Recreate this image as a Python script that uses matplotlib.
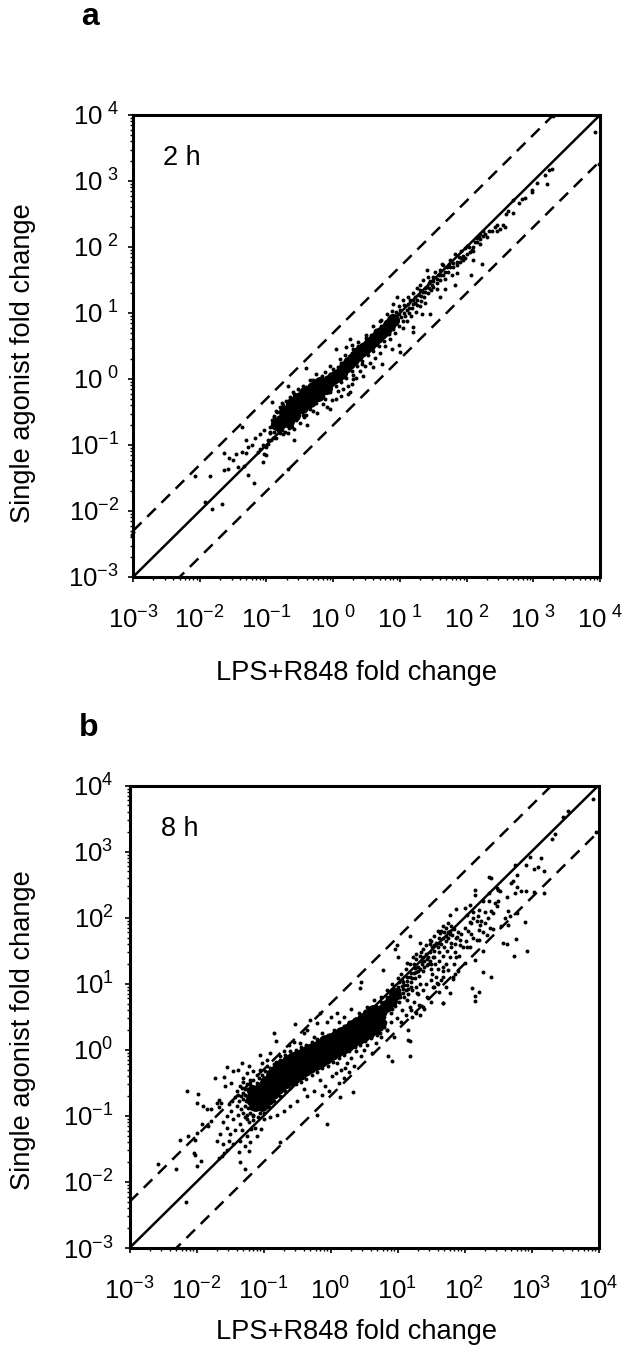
import matplotlib
matplotlib.use("Agg")
import matplotlib.pyplot as plt
import numpy as np

plt.rcParams['font.family'] = ['Liberation Sans', 'DejaVu Sans']
plt.rcParams['mathtext.fontset'] = 'custom'
plt.rcParams['mathtext.rm'] = 'Liberation Sans'
plt.rcParams['mathtext.default'] = 'regular'

X_LABEL = "LPS+R848 fold change"
Y_LABEL = "Single agonist fold change"
DECADES = [-3, -2, -1, 0, 1, 2, 3, 4]
FOLD_LIMIT = 5

# All values below are log10(fold change), as (x, y).
# The CORE lists mark the solid black part of each cloud, drawn as fatter blobs.
A_CORE = [
    (-.84, -.68), (-.78, -.63), (-.72, -.59), (-.66, -.53), (-.6, -.46), (-.54, -.39),
    (-.48, -.34), (-.42, -.3), (-.36, -.26), (-.3, -.22), (-.24, -.17), (-.18, -.12),
    (-.12, -.07), (-.06, -.03), (0, .01), (.06, .05), (.12, .09), (.18, .18),
    (.24, .24), (.3, .3), (.36, .36), (.42, .42), (.48, .47), (.54, .52),
    (.6, .57), (.66, .63), (.72, .69), (.78, .74), (.84, .82), (.9, .89),
    (-.72, -.5), (-.62, -.38), (-.52, -.3), (-.42, -.21), (-.3, -.14), (-.2, -.06),
    (-.68, -.64), (-.58, -.54), (-.46, -.42), (-.34, -.33), (-.22, -.24), (-.1, -.14),
]
A_DOTS = [
    (3.92, 3.75), (3.98, 3.26), (3.29, 3.98), (3.28, 3.18), (3.23, 3.16), (3.18, 3.09),
    (3.21, 2.95), (3.06, 2.97), (2.98, 2.87), (2.98, 2.83), (2.88, 2.74), (2.83, 2.72),
    (2.78, 2.67), (2.69, 2.71), (2.69, 2.52), (2.59, 2.5), (2.62, 2.55), (2.57, 2.3),
    (2.55, 2.34), (2.5, 2.27), (2.46, 2.33), (2.42, 2.3), (2.38, 2.24), (2.33, 2.25),
    (2.27, 2.2), (2.24, 2.17), (2.2, 2.12), (2.25, 2.25), (2.2, 2.2), (2.18, 2.15),
    (2.15, 2.08), (2.2, 2.05), (2.1, 2.0), (2.08, 1.95), (2.0, 1.9), (1.98, 1.98),
    (1.95, 1.87), (1.92, 1.94), (1.88, 1.85), (1.85, 1.78), (1.8, 1.7), (2.23, 1.74),
    (2.1, 1.81), (2.07, 1.58), (1.82, 1.42), (1.68, 1.37), (1.6, 1.24), (1.45, .99),
    (1.33, .99), (1.19, .71), (1.2, .79), (.99, .51), (1.0, .41), (.88, .46),
    (.73, .23), (.6, .18), (.45, .05), (.28, -.07), (.23, -.1), (.3, 0),
    (-.09, -.42), (-.24, -.52), (-.39, -.7), (-.59, -.93), (-.68, -1.36), (1.4, 1.65),
    (1.63, 1.75), (.95, 1.24), (.9, 1.14), (.25, .6), (.05, .46), (-.41, .16),
    (-.67, -.1), (-.77, -.37), (-.92, -.35), (-2.07, -1.47), (-1.85, -1.47), (-1.92, -1.86),
    (-1.82, -1.97), (-1.67, -1.89), (-1.63, -1.38), (-1.57, -1.36), (-1.64, -1.12), (-1.56, -1.19),
    (-1.5, -1.23), (-1.45, -1.13), (-1.42, -1.34), (-1.34, -1.32), (-1.36, -.73), (-1.3, -.93),
    (-1.27, -1.46), (-1.19, -1.58), (-1.37, -1.1), (-1.3, -1.12), (-1.27, -1.03), (-1.22, -1.0),
    (-1.17, -.89), (-1.09, -.83), (-1.04, -.78), (-1.09, -1.06), (-1.04, -1.13), (-1.05, -1.26),
    (-1.0, -1.03), (-.97, -.93), (-.95, -.82), (-3.02, -2.37), (-3.0, -2.32), (-1.12, -1.1),
    (-1.0, -1.15), (-1.05, -1.0), (-.98, -.98), (-.93, -.92), (-.9, -.9), (-.95, -.72),
    (-.92, -.62), (-.88, -.56), (-.85, -.48), (-.8, -.42), (-.75, -.4), (-.7, -.33),
    (-.64, -.28), (-.58, -.22), (-.52, -.15), (-.45, -.1), (-.35, -.02), (-.25, .08),
    (-.12, .1), (.0, .15), (.12, .25), (.2, .48), (.28, .52), (.38, .56), (.5, .66),
    (.6, .8), (.7, .88), (.8, .98), (.88, 1.03), (.98, 1.1), (1.05, 1.2), (1.12, 1.25),
    (1.2, 1.3), (1.25, 1.38), (1.3, 1.42), (1.35, 1.5), (1.42, 1.55), (1.5, 1.55),
    (1.45, 1.48), (1.52, 1.62), (1.6, 1.65), (1.7, 1.7), (1.75, 1.8), (1.82, 1.9),
    (1.55, 1.45), (1.6, 1.5), (1.68, 1.52), (1.72, 1.62), (1.78, 1.58), (1.85, 1.6),
    (1.14, 1.08), (1.2, 1.14), (1.26, 1.2), (1.32, 1.26), (1.38, 1.32), (1.43, 1.38),
    (1.3, 1.1), (1.38, 1.15), (1.24, 1.02), (1.16, .95), (1.1, .88), (1.05, .78),
    (1.15, 1.2), (1.22, 1.25), (1.3, 1.35), (1.4, 1.4), (1.48, 1.42), (1.55, 1.36),
    (.92, .7), (.85, .6), (.78, .5), (.7, .4), (.62, .32), (.55, .25), (.48, .2),
    (.4, .12), (.35, .02), (.15, -.15), (.12, -.25), (.22, -.22), (.25, -.2), (.05, -.3),
    (-.02, -.32), (-.15, -.38), (-.05, -.46), (-.3, -.48), (-.44, -.58), (-.5, -.66),
    (-.58, -.76), (-.68, -.82), (-.75, -.84), (-.85, -.9), (-.62, -.72), (-.4, -.54),
    (-.12, -.3), (.08, -.18), (.3, .06), (.44, .22), (.72, .9), (.62, .72), (.5, .62),
    (.38, .5), (.3, .45), (.18, .36), (.1, .3), (-.05, .2), (-.16, .05), (-.3, -.02),
]
# Extra dots that thicken the edge of the 2 h cloud and its upper tail
A_RIM = [
    (-.88, -.58), (-.84, -.5), (-.8, -.82), (-.76, -.78), (-.72, -.8), (-.66, -.74),
    (-.9, -.72), (-.94, -.8), (-.88, -.8), (-.82, -.78), (-.78, -.46), (-.6, -.2),
    (-.55, -.25), (-.5, -.2), (-.4, -.12), (-.3, -.06), (-.18, .02), (-.05, .08),
    (.02, .12), (.08, .18), (.14, .2), (.2, .3), (.28, .4), (.34, .46), (.42, .52),
    (.5, .58), (.56, .66), (.64, .74), (.72, .8), (.8, .88), (.86, .96), (.94, 1.02),
    (1.0, 1.05), (1.06, 1.12), (.95, .88), (1.02, .94), (.98, .98), (1.06, 1.0),
    (1.1, 1.05), (1.12, 1.14), (1.18, 1.08), (1.22, 1.15), (1.28, 1.28), (1.34, 1.32),
    (1.36, 1.24), (1.42, 1.3), (1.46, 1.35), (1.5, 1.48), (.04, -.1), (.12, -.05),
    (.2, .02), (.28, .12), (.36, .2), (.44, .28), (.52, .36), (.6, .42), (.68, .5),
    (.76, .58), (.84, .68), (.9, .76), (.98, .8), (1.04, .88), (-.35, -.45), (-.25, -.36),
    (-.15, -.25), (-.05, -.2), (-.45, -.55), (-.55, -.62), (1.9, 1.78), (1.95, 1.8),
    (1.75, 1.7), (1.65, 1.58), (1.58, 1.58), (1.65, 1.72), (2.05, 1.92), (2.12, 2.08),
    (2.3, 2.15), (2.45, 2.25), (1.08, .96), (1.14, 1.0), (1.2, 1.2), (1.26, 1.12),
    (1.32, 1.18), (1.38, 1.38), (1.44, 1.46), (1.5, 1.4), (1.56, 1.52), (1.62, 1.58),
    (1.68, 1.62), (1.74, 1.74), (1.8, 1.76), (1.86, 1.72), (1.92, 1.84), (1.98, 1.84),
    (2.04, 2.0), (2.1, 1.94), (2.16, 2.14), (2.0, 2.02),
]

B_CORE = [
    (-1.17, -.75), (-1.15, -.62), (-1.13, -.83), (-1.06, -.72), (-.99, -.64), (-.92, -.56), (-.85, -.49),
    (-.78, -.43), (-.71, -.36), (-.64, -.3), (-.57, -.27), (-.5, -.23), (-.43, -.19),
    (-.36, -.15), (-.29, -.12), (-.22, -.07), (-.15, -.03), (-.08, .01), (-.01, .05),
    (.06, .09), (.13, .14), (.2, .18), (.27, .23), (.34, .27), (.41, .31),
    (.48, .36), (.55, .41), (.62, .46), (.69, .52), (.76, .59), (.83, .66),
    (.9, .74), (.97, .84),
    (-1.04, -.58), (-.96, -.48), (-.88, -.38), (-.8, -.31),
    (-.72, -.23), (-.64, -.17), (-.56, -.13), (-.48, -.1), (-.4, -.05), (-.32, -.01),
    (-.24, .03), (-.16, .08), (-.08, .13), (0, .16), (.08, .2), (.16, .25),
    (.24, .3), (.32, .36), (.4, .41), (.48, .46), (.56, .52), (.64, .58),
    (-1.02, -.84), (-.94, -.74), (-.86, -.66), (-.78, -.58), (-.7, -.5),
    (-.62, -.45), (-.54, -.4), (-.46, -.36), (-.38, -.31), (-.3, -.26), (-.22, -.22),
    (-.14, -.17), (-.06, -.12), (.02, -.07), (.1, -.02), (.18, .03), (.26, .08),
    (.34, .13), (.42, .18), (.5, .23), (.58, .27), (.66, .33), (.74, .41),
]
B_DOTS = [
    (3.92, 3.79), (3.97, 3.29), (3.55, 3.62), (3.47, 3.53), (3.3, 3.19), (3.35, 3.26),
    (2.98, 2.92), (3.14, 2.9), (2.92, 2.8), (3.03, 2.73), (3.1, 2.76), (3.18, 2.7),
    (2.78, 2.65), (2.75, 2.79), (2.36, 2.62), (2.4, 2.6), (2.73, 2.55), (2.7, 2.52),
    (2.78, 2.47), (2.85, 2.4), (2.92, 2.4), (3.03, 2.39), (3.18, 2.38), (2.75, 2.37),
    (2.63, 2.32), (2.5, 2.42), (2.53, 2.4), (2.48, 2.45), (2.16, 2.42), (2.16, 2.35),
    (2.36, 2.37), (2.28, 2.25), (2.36, 2.25), (2.45, 2.22), (2.48, 2.17), (2.08, 2.19),
    (2.0, 2.14), (1.88, 2.13), (1.78, 2.04), (2.13, 2.09), (2.21, 2.12), (2.43, 2.07),
    (2.65, 2.1), (2.78, 2.07), (2.68, 2.02), (2.9, 1.94), (2.65, 1.89), (2.55, 1.87),
    (2.38, 1.84), (2.43, 1.83), (2.13, 1.99), (2.08, 1.94), (2.03, 2.04), (2.23, 1.89),
    (2.28, 1.79), (2.21, 1.82), (2.33, 1.74), (2.13, 1.69), (2.21, 1.66), (2.57, 1.61),
    (2.64, 1.6), (2.77, 1.68), (2.28, 1.49), (2.93, 1.49), (2.74, 1.42), (2.08, 1.56),
    (1.98, 1.55), (2.16, 1.36), (2.0, 1.31), (2.28, 1.18), (2.4, 1.1), (2.11, .93),
    (2.21, .87), (2.16, .81), (2.16, .74), (1.68, .71), (1.78, .86), (1.86, 1.14),
    (1.83, 1.07), (1.76, 1.21), (1.65, 1.8), (1.7, 1.78), (1.78, 1.8), (1.82, 1.74),
    (1.75, 1.69), (1.68, 1.69), (1.88, 1.69), (1.93, 1.66), (1.93, 1.59), (1.55, 1.72),
    (1.62, 1.69), (1.57, 1.62), (1.72, 1.85), (1.8, 1.88), (1.72, 1.72), (1.78, 1.75),
    (1.85, 1.83), (1.9, 1.78), (1.95, 1.75), (1.65, 1.6), (1.6, 1.55), (1.7, 1.55),
    (1.52, 1.55), (1.48, 1.48), (1.42, 1.58), (1.38, 1.52), (1.33, 1.42), (1.28, 1.38),
    (1.35, 1.35), (1.45, 1.4), (1.55, 1.4), (1.62, 1.35), (1.4, 1.25), (1.3, 1.2),
    (1.5, 1.3), (1.6, 1.22), (1.68, 1.2), (1.58, 1.1), (1.65, 1.05), (1.5, 1.05),
    (1.42, 1.0), (1.55, .95), (1.72, .95), (1.62, .88), (1.38, .9), (1.3, .85),
    (1.45, .78), (1.5, .72), (1.25, .72), (1.32, .68), (1.4, .62), (1.2, .6),
    (1.28, .55), (1.22, .5), (1.12, .52), (1.05, .42), (1.16, .3), (1.19, .13),
    (1.16, .15), (1.18, -.1), (.92, -.17), (.86, -.09), (.95, .2), (.85, .3),
    (.75, .2), (.68, .1), (.6, .18), (.55, .08), (.5, 0), (.62, -.05), (.45, -.1),
    (.38, -.02), (.3, -.12), (.35, -.25), (.25, -.2), (.15, -.3), (.2, -.42),
    (.12, -.5), (.34, -.64), (.14, -.71), (-.13, -.69), (-.2, -.98), (-.05, -1.13),
    (-.75, -1.39), (-.02, -.62), (-.08, -.55), (-.25, -.62), (-.35, -.7), (-.4, -.6),
    (-.5, -.78), (-.6, -.85), (-.7, -.92), (-.8, -.98), (-.9, -1.02), (-.15, -.45),
    (.02, -.4), (.08, -.35), (.28, -.33), (.22, -.28), (.1, -.2), (.42, .55),
    (.2, .5), (.3, .62), (.1, .55), (.0, .5), (-.05, .42), (-.15, .55), (-.2, .4),
    (-.3, .45), (-.35, .3), (-.4, .25), (-.25, .2), (-.12, .25), (.05, .3), (.12, .42),
    (.55, .65), (.65, .75), (.75, .8), (.85, .9), (.92, 1.0), (1.0, 1.08), (1.05, 1.15),
    (1.12, 1.22), (1.18, 1.3), (.79, 1.21), (.45, 1.02), (.44, .93), (.99, 1.58),
    (.96, 1.53), (1.01, 1.41), (1.19, 1.72), (-.85, .25), (-.81, .14), (-.53, .39),
    (-1.05, -.08), (-.91, -.05), (-.7, -.02), (-.62, .08), (-.55, .12), (-.45, .1),
    (-.75, -.15), (-.85, -.22), (-.95, -.25), (-1.05, -.3), (-1.15, -.32), (-1.25, -.35),
    (-1.3, -.42), (-1.25, -.52), (-1.35, -.55), (-1.4, -.62), (-1.3, -.65), (-1.42, -.72),
    (-1.47, -.78), (-1.4, -.85), (-1.52, -.82), (-1.48, -.92), (-1.38, -.98), (-1.45, -1.05),
    (-1.55, -1.0), (-1.35, -1.12), (-1.28, -1.02), (-1.22, -1.1), (-1.32, -1.22), (-1.25, -1.3),
    (-1.18, -1.2), (-1.12, -1.18), (-1.1, -1.3), (-1.2, -1.4), (-1.15, -.98), (-1.42, -1.22),
    (-1.5, -1.28), (-1.55, -1.18), (-1.6, -1.1), (-1.65, -1.28), (-1.7, -1.38), (-1.6, -1.42),
    (-1.52, -1.38), (-1.45, -1.42), (-1.35, -1.38), (-1.28, -1.45), (-1.0, -1.05), (-1.03, -1.2),
    (-2.57, -1.73), (-2.3, -1.81), (-2.15, -2.3), (-2.24, -1.37), (-2.12, -1.3), (-2.14, -.62),
    (-1.98, -.67), (-1.99, -.8), (-1.91, -.85), (-1.85, -.89), (-1.79, -.89), (-1.72, -.43),
    (-1.59, -.41), (-1.55, -.26), (-1.46, -.32), (-1.49, -.5), (-1.58, -.55), (-1.69, -.81),
    (-1.64, -.81), (-1.67, -.76), (-1.67, -.86), (-1.92, -1.13), (-1.83, -1.16), (-1.79, -1.08),
    (-1.99, -1.26), (-2.02, -1.36), (-2.03, -1.56), (-2.02, -1.59), (-1.94, -1.68), (-2.0, -1.76),
    (-1.67, -1.64), (-1.62, -1.61), (-1.59, -1.56), (-1.54, -1.51), (-1.36, -1.55), (-1.35, -1.7),
    (-1.27, -1.81), (-1.22, -1.53), (-1.38, -.3), (-1.32, -.2), (-1.22, -.25), (-1.15, -.45),
]
# Extra dots that thicken the edge of the 8 h cloud, mostly at its low end and upper tail
B_RIM = [
    (-1.22, -.62), (-1.18, -.55), (-1.14, -.6), (-1.1, -.5), (-1.06, -.42), (-1.02, -.38),
    (-.98, -.32), (-.94, -.34), (-.9, -.28), (-.82, -.18), (-.76, -.1), (-.68, -.08),
    (-.6, -.02), (-.52, 0), (-.44, .04), (-.36, .08), (-.28, .12), (-.2, .16), (-.12, .18),
    (-.04, .22), (.04, .26), (.12, .3), (.2, .36), (.28, .42), (.36, .46), (.44, .5),
    (.52, .58), (.6, .62), (.68, .66), (.76, .72), (.84, .8), (.92, .88), (1.0, .95),
    (1.08, 1.02), (1.14, 1.1), (1.2, 1.16), (1.26, 1.24), (.72, .62), (.8, .7), (.88, .78),
    (.95, .85), (1.02, .9), (1.08, .92), (1.14, .98), (1.2, 1.02), (1.26, 1.08), (1.32, 1.12),
    (1.38, 1.2), (1.44, 1.28), (1.5, 1.22), (1.56, 1.3), (1.1, .8), (1.16, .85), (1.22, .9),
    (1.28, .95), (1.34, 1.0), (1.02, .72), (.96, .66), (.9, .55), (.82, .42), (.75, .32),
    (.68, .26), (.6, .2), (.52, .14), (.44, .08), (.36, .04), (.28, -.02), (.2, -.08),
    (.12, -.12), (.04, -.18), (-.04, -.24), (-.12, -.28), (-.2, -.34), (-.28, -.38), (-.36, -.44),
    (-.44, -.48), (-.52, -.52), (-.6, -.58), (-.68, -.62), (-.76, -.7), (-.84, -.78), (-.92, -.86),
    (-1.0, -.96), (-1.08, -1.02), (-1.16, -1.06), (-1.2, -.95), (-1.25, -.98), (-1.18, -.88),
    (-1.22, -.8), (-1.27, -.85), (-1.3, -.75), (-1.25, -.7), (-1.2, -.72), (-1.18, -.78),
    (-1.33, -.9), (-1.3, -.95), (-1.24, -1.05), (-1.15, -1.0), (-1.1, -.9), (-1.05, -.95),
    (-1.36, -.78), (-1.38, -.68), (-1.32, -.58), (-1.28, -.6), (-1.16, -.68), (-1.12, -.72),
    (-1.3, -.48), (-1.2, -.45), (-1.1, -.38), (-1.0, -.42), (-.95, -.15), (-1.02, -.2),
    (1.55, 1.5), (1.62, 1.48), (1.68, 1.42), (1.74, 1.5), (1.8, 1.55), (1.86, 1.48), (1.92, 1.42),
    (1.45, 1.3), (1.52, 1.15), (1.6, 1.0), (1.68, 1.1), (1.72, 1.3), (1.85, 1.3), (1.9, 1.2),
    (1.8, 1.62), (1.86, 1.6), (1.72, 1.64), (1.62, 1.62), (1.55, 1.58), (1.48, 1.6), (1.42, 1.45),
    (1.35, 1.48), (1.28, 1.45), (1.25, 1.3), (1.75, 1.92), (1.68, 1.88), (1.6, 1.8), (1.5, 1.65),
    (2.0, 1.85), (2.05, 1.8), (2.1, 1.92), (2.18, 1.95), (2.25, 1.95), (2.3, 1.92), (2.35, 2.0),
    (2.02, 1.65), (2.1, 1.75), (2.4, 2.1), (2.3, 2.08), (2.2, 2.03), (2.5, 2.25), (2.6, 2.0),
    (1.83, 1.1), (1.59, 1.01), (1.68, .71), (1.38, .65), (1.19, .65), (1.14, .75), (1.44, .8),
    (1.34, .53), (.74, .25), (.84, .3), (.99, .48), (1.07, .6), (1.29, .86), (1.53, .95),
    (1.68, 1.25), (1.78, 1.4), (1.88, 1.4), (1.53, 1.4), (1.38, 1.4), (1.23, 1.4), (1.14, 1.31),
    (1.34, 1.62), (1.49, 1.66), (1.63, 1.77), (1.75, 1.78), (1.89, 1.71), (2.04, 1.56), (2.19, 1.66),
    (1.02, 1.02), (1.06, 1.06), (1.1, .98), (1.14, 1.04), (1.18, 1.1), (1.22, 1.08), (1.24, 1.16),
    (1.28, 1.18), (1.3, 1.26), (1.34, 1.22), (1.36, 1.3), (1.4, 1.34), (1.44, 1.38), (1.48, 1.34),
    (1.0, .85), (1.04, .8), (1.08, .86), (1.12, .9), (1.06, .96), (1.16, .92), (1.2, .95),
    (.88, .68), (.92, .62), (.8, .5), (.72, .38), (.64, .3), (.7, .22), (.8, .35), (.9, .42),
    (-1.26, -.78), (-1.23, -.88), (-1.28, -.68), (-1.24, -.6), (-1.2, -.52), (-1.34, -.7),
]


# Draws one panel: the three guide lines, the cloud of dots and the hour label
def plot_panel(ax, core, dots, hours_label, label_pos, core_size, spaced_exponent, y_pad):
    guide = 10.0 ** np.array([DECADES[0], DECADES[-1]])
    ax.plot(guide, guide, color="black", lw=1.8, solid_capstyle="butt")
    for factor in (FOLD_LIMIT, 1 / FOLD_LIMIT):
        line, = ax.plot(guide, guide * factor, color="black", lw=1.8)
        line.set_dashes((4.8, 3.2))

    core_x, core_y = zip(*core)
    dot_x, dot_y = zip(*dots)
    ax.scatter(10.0 ** np.array(core_x), 10.0 ** np.array(core_y), s=core_size,
               color="black", lw=0, clip_on=False)
    ax.scatter(10.0 ** np.array(dot_x), 10.0 ** np.array(dot_y), s=8,
               color="black", lw=0, clip_on=False)

    ax.set_xscale("log")
    ax.set_yscale("log")
    ax.set_xlim(10.0 ** DECADES[0], 10.0 ** DECADES[-1])
    ax.set_ylim(10.0 ** DECADES[0], 10.0 ** DECADES[-1])

    labels = []
    for d in DECADES:
        gap = r"\,\,"if spaced_exponent and d >= 0 else ""
        labels.append(r"$10^{%s%d}$" % (gap, d))
    ticks = [10.0 ** d for d in DECADES]
    ax.set_xticks(ticks, labels)
    ax.set_yticks(ticks, labels)
    ax.xaxis.set_minor_locator(matplotlib.ticker.LogLocator(base=10, subs=range(2, 10), numticks=20))
    ax.yaxis.set_minor_locator(matplotlib.ticker.LogLocator(base=10, subs=range(2, 10), numticks=20))
    ax.xaxis.set_minor_formatter(matplotlib.ticker.NullFormatter())
    ax.yaxis.set_minor_formatter(matplotlib.ticker.NullFormatter())
    ax.tick_params(which="major", length=3.5, width=1.2, labelsize=18.5)
    ax.tick_params(which="minor", length=2.2, width=1.0)
    ax.tick_params(axis="x", which="major", pad=18)
    ax.tick_params(axis="y", which="major", pad=y_pad)
    for spine in ax.spines.values():
        spine.set_linewidth(2.2)

    ax.text(label_pos[0], label_pos[1], hours_label, transform=ax.transAxes,
            fontsize=19.5, ha="left", va="center")


def main():
    fig = plt.figure(figsize=(6.24, 13.51), dpi=100)
    width, height = 624.0, 1351.0

    ax_a = fig.add_axes([133 / width, 1 - 577 / height, 467 / width, 462 / height])
    plot_panel(ax_a, A_CORE, A_DOTS + A_RIM, "2 h", (0.065, 0.907), 90, True, 6.5)

    ax_b = fig.add_axes([129.5 / width, 1 - 1248 / height, 469 / width, 462.5 / height])
    plot_panel(ax_b, B_CORE, B_DOTS + B_RIM, "8 h", (0.067, 0.907), 85, False, 8)

    fig.text(356 / width, 1 - 673 / height, X_LABEL, fontsize=19.6, ha="center", va="center")
    fig.text(356 / width, 1 - 1332 / height, X_LABEL, fontsize=19.6, ha="center", va="center")
    fig.text(23 / width, 1 - 363 / height, Y_LABEL, fontsize=19.6, rotation=90, ha="center", va="center")
    fig.text(23 / width, 1 - 1030 / height, Y_LABEL, fontsize=19.6, rotation=90, ha="center", va="center")
    fig.text(81 / width, 1 - 17 / height, "a", fontsize=23, fontweight="bold", ha="left", va="center")
    fig.text(79 / width, 1 - 728 / height, "b", fontsize=23, fontweight="bold", ha="left", va="center")

    fig.savefig("out.png", dpi=100)


if __name__ == "__main__":
    main()
